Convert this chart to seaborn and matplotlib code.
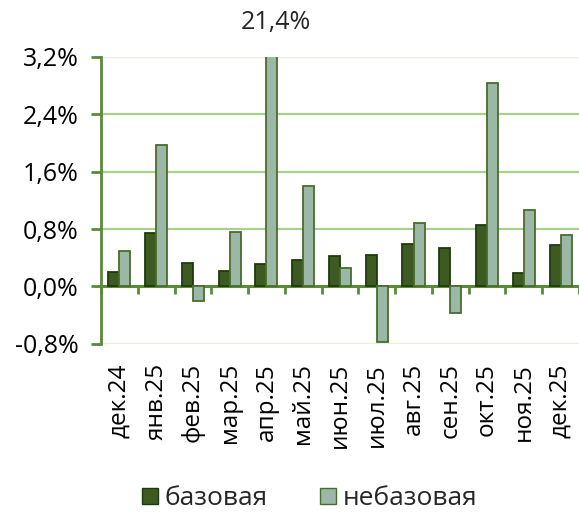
import pandas as pd
import matplotlib
matplotlib.use('Agg')
import matplotlib.pyplot as plt
import seaborn as sns
from matplotlib.ticker import FuncFormatter
from matplotlib.patches import Patch

# Данные
meses = ['дек.24', 'янв.25', 'фев.25', 'мар.25', 'апр.25', 'май.25', 'июн.25',
         'июл.25', 'авг.25', 'сен.25', 'окт.25', 'ноя.25', 'дек.25']
bazovaya = [0.20, 0.74, 0.33, 0.22, 0.31, 0.37, 0.43, 0.44, 0.59, 0.53, 0.85, 0.19, 0.58]
nebazovaya = [0.50, 1.97, -0.20, 0.76, 21.4, 1.40, 0.25, -0.78, 0.89, -0.37, 2.84, 1.06, 0.71]
series = ['базовая', 'небазовая']
y_ticks = [-0.8, 0.0, 0.8, 1.6, 2.4, 3.2]

cor_fill = {'базовая': '#3d5a23', 'небазовая': '#9bb8a7'}
cor_edge = {'базовая': '#1f3a0c', 'небазовая': '#4b6b2e'}
cor_eixo = '#5b8a3a'

df = pd.DataFrame({'mes': meses * 2,
                   'serie': [series[0]] * len(meses) + [series[1]] * len(meses),
                   'valor': bazovaya + nebazovaya})

sns.set_theme(style='white')
plt.rcParams['font.family'] = ['Open Sans', 'DejaVu Sans']

fig = plt.figure(figsize=(5.79, 5.17), dpi=100)
ax = fig.add_axes([0.1744, 0.335, 0.8256, 0.555])

sns.barplot(data=df, x='mes', y='valor', hue='serie', palette=cor_fill,
            width=0.6, ax=ax, legend=False, saturation=1)
for cont, s in zip(ax.containers, series):
    for bar in cont:
        bar.set_edgecolor(cor_edge[s])
        bar.set_linewidth(1.3)

ax.set_ylim(y_ticks[0], y_ticks[-1])
ax.set_xlim(-0.5, len(meses) - 0.5)
ax.set_yticks(y_ticks)
ax.yaxis.set_major_formatter(FuncFormatter(lambda v, p: f'{v:.1f}%'.replace('.', ',')))
ax.set_xlabel('')
ax.set_ylabel('')

# grade
grid_cores = ['#e8ecdc', '#ffffff', '#a9d18e', '#a9d18e', '#a9d18e', '#e6eede']
for y, c in zip(y_ticks, grid_cores):
    if y != 0:
        ax.axhline(y, color=c, lw=1.6, zorder=0)

for s in ['top', 'right', 'bottom']:
    ax.spines[s].set_visible(False)
ax.spines['left'].set_color(cor_eixo)
ax.spines['left'].set_linewidth(2)
ax.tick_params(axis='y', direction='out', length=7, width=2, color=cor_eixo,
               labelsize=18, pad=9, left=True, labelcolor='black')
ax.tick_params(axis='x', length=0, labelsize=17.5, rotation=90, pad=14, labelcolor='black')

# linha do zero com marcas entre categorias
frac0 = (0 - y_ticks[0]) / (y_ticks[-1] - y_ticks[0])
sec = ax.secondary_xaxis(frac0)
sec.set_xticks([i + 0.5 for i in range(-1, len(meses))])
sec.set_xticklabels([])
sec.spines['bottom'].set_color(cor_eixo)
sec.spines['bottom'].set_linewidth(2.2)
sec.tick_params(direction='out', length=6, width=2, color=cor_eixo)

# rótulo da barra cortada
i_max = nebazovaya.index(max(nebazovaya))
ax.text(i_max + 0.25, y_ticks[-1] + 0.48, f'{max(nebazovaya):.1f}%'.replace('.', ','),
        ha='center', va='center', fontsize=18, clip_on=False)

handles = [Patch(facecolor=cor_fill[s], edgecolor=cor_edge[s], label=s) for s in series]
fig.legend(handles=handles, loc='center', bbox_to_anchor=(0.535, 0.035), ncol=2,
           frameon=False, fontsize=19, handlelength=0.6, handleheight=0.6,
           handletextpad=0.25, columnspacing=2.0)

fig.savefig('out.png', dpi=100)
